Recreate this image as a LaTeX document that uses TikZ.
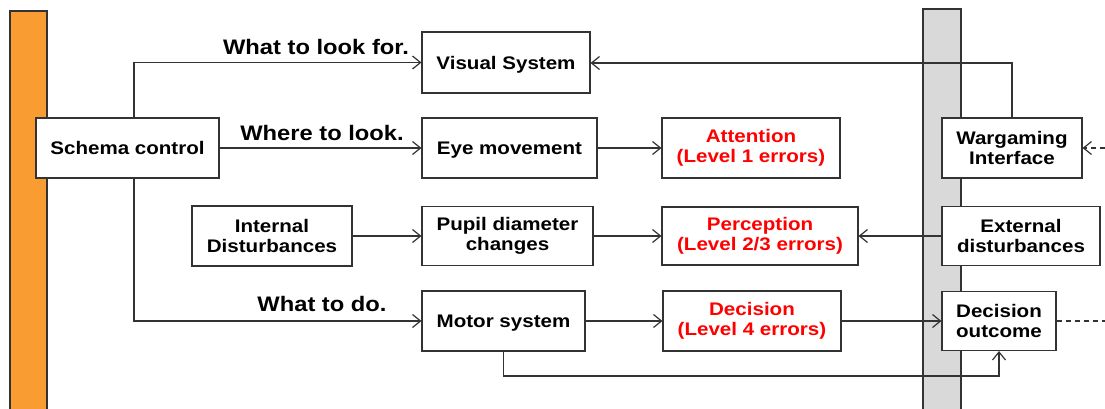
\documentclass[tikz,border=0pt]{standalone}
\usepackage{fontspec}
\setmainfont{Liberation Sans}[FakeStretch=1.13]
\usetikzlibrary{arrows.meta,calc}
\definecolor{barorange}{HTML}{F99D33}
\definecolor{bargray}{HTML}{D9D9D9}
\definecolor{linec}{HTML}{333333}
\definecolor{errred}{HTML}{FF0000}
\tikzset{
  box/.style={draw=linec, line width=1.1pt, fill=white, align=center, inner sep=0pt,
    font=\fontsize{18.2}{20.5}\selectfont\bfseries},
  onebox/.style={box, text height=13pt, text depth=0pt},
  redbox/.style={box, text=errred},
  lbl/.style={inner sep=0pt, font=\fontsize{21}{23}\selectfont\bfseries},
  conn/.style={draw=linec, line width=1.2pt, -{Straight Barb[length=8pt,width=13pt,line width=1.2pt]}},
  plain/.style={draw=linec, line width=1.2pt},
  bar/.style={draw=linec, line width=1.2pt}
}
\begin{document}
\begin{tikzpicture}[x=1pt,y=-1pt]
\useasboundingbox (0,0) rectangle (1105,408);
\clip (0,0) rectangle (1105,408);
% bars
\path[bar, fill=barorange] (10,11) rectangle (47,420);
\path[bar, fill=bargray] (923,9) rectangle (961,420);
% boxes
\node[onebox, minimum width=183pt, minimum height=60pt] (schema) at (127.5,148) {Schema control};
\node[onebox, minimum width=168pt, minimum height=61pt] (visual) at (506,62.5) {Visual System};
\node[onebox, minimum width=175pt, minimum height=60pt] (eye) at (509.5,148) {Eye movement};
\node[redbox, minimum width=178pt, minimum height=60pt] (attention) at (751,148) {Attention\\(Level 1 errors)};
\node[box, minimum width=160pt, minimum height=60pt] (internal) at (272,236) {Internal\\Disturbances};
\node[box, minimum width=171pt, minimum height=59pt] (pupil) at (507.5,236) {Pupil diameter\\changes};
\node[redbox, minimum width=196pt, minimum height=58pt] (perception) at (760,236) {Perception\\(Level 2/3 errors)};
\node[onebox, minimum width=163pt, minimum height=60pt] (motor) at (503.5,321) {Motor system};
\node[redbox, minimum width=178pt, minimum height=60pt] (decision) at (752,321) {Decision\\(Level 4 errors)};
\node[box, minimum width=140pt, minimum height=60pt] (wargaming) at (1012,148) {Wargaming\\Interface};
\node[box, minimum width=158pt, minimum height=59pt] (external) at (1021,236) {External\\disturbances};
\node[box, minimum width=114pt, minimum height=59pt] (outcome) at (999,321) {Decision\\outcome};
% labels
\node[lbl] (l1) at (316,47) {What to look for.};
\node[lbl] (l2) at (322,133) {Where to look.};
\node[lbl] (l3) at (322,304) {What to do.};
% helper coordinates
\coordinate (sx) at (134,0);
\coordinate (bend) at (0,376);
\coordinate (top) at (0,63);
\coordinate (wr) at (1105,148);
\coordinate (orr) at (1105,321);
% connectors
\draw[conn] (schema.north -| sx) |- (visual.west);
\draw[conn] (schema.east) -- (eye.west);
\draw[conn] (schema.south -| sx) |- (motor.west);
\draw[conn] (eye.east) -- (attention.west);
\draw[conn] (internal.east) -- (pupil.west);
\draw[conn] (pupil.east) -- (perception.west);
\draw[conn] (external.west) -- (perception.east);
\draw[conn] (motor.east) -- (decision.west);
\draw[conn] (decision.east) -- (outcome.west);
\draw[conn] (motor.south) -- (motor.south |- bend) -| (outcome.south);
\draw[conn] (wargaming.north) -- (wargaming.north |- top) -- (visual.east |- top);
\draw[conn, dash pattern=on 5pt off 4pt] (wr) -- (wargaming.east);
\draw[plain, dash pattern=on 5pt off 4pt] (outcome.east) -- (orr);
\end{tikzpicture}
\end{document}
